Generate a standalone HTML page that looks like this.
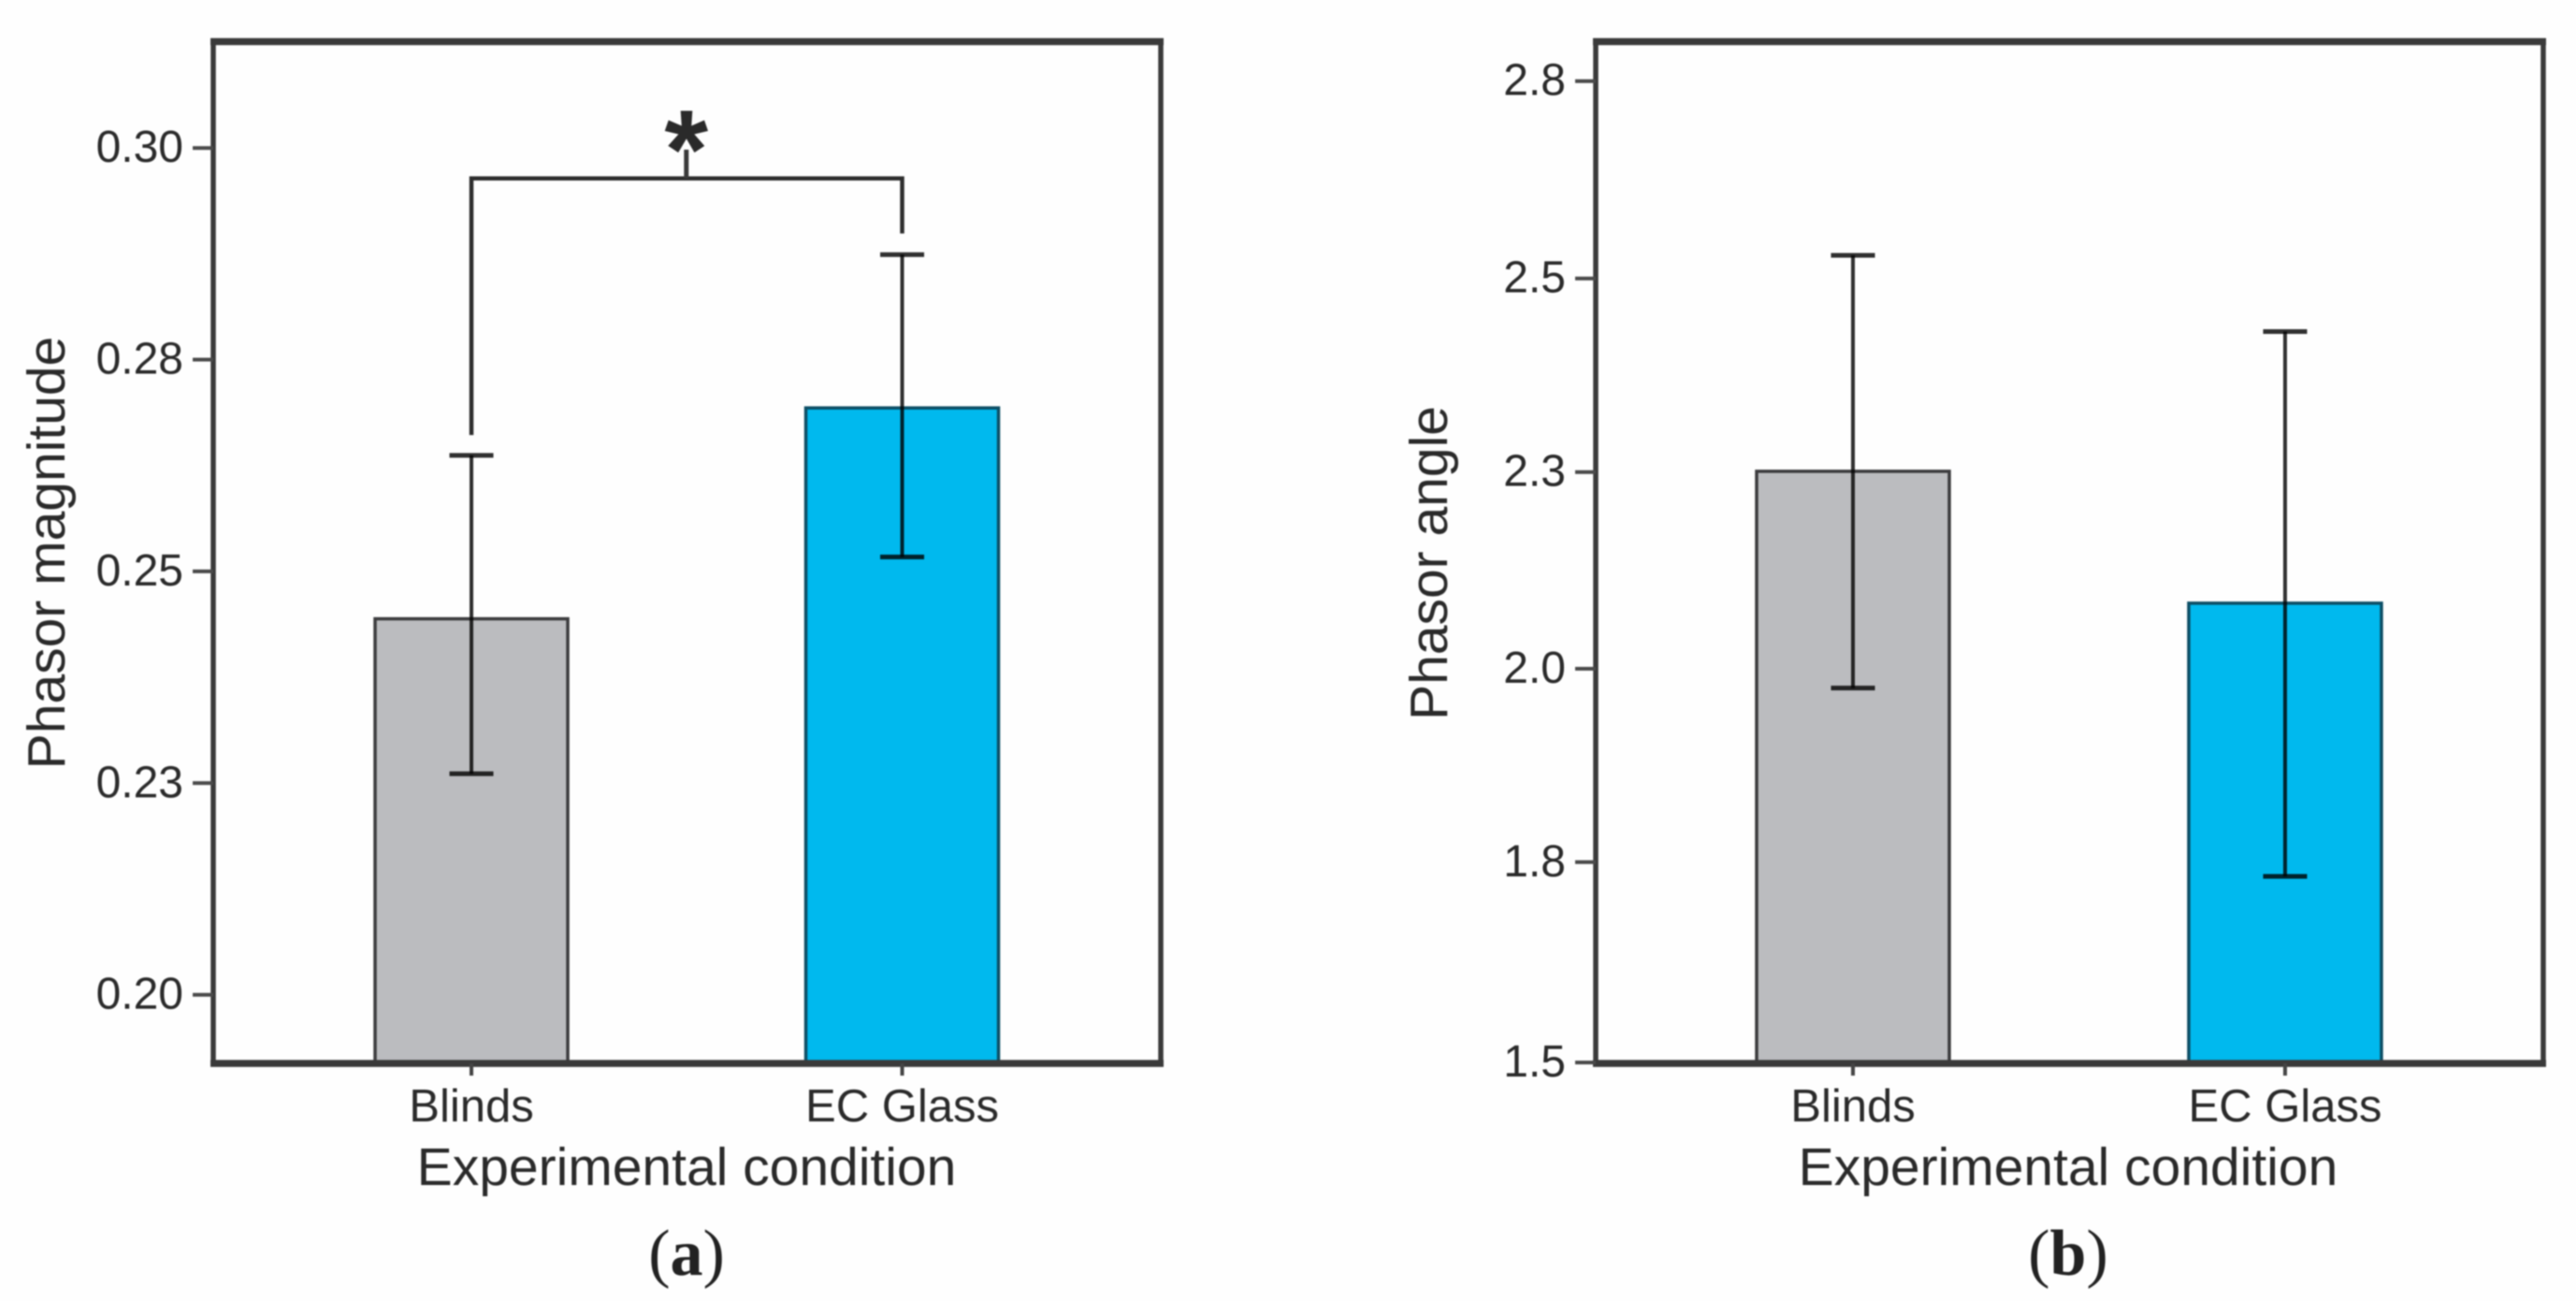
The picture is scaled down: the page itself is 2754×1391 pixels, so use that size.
<!DOCTYPE html>
<html lang="en">
<head>
<meta charset="utf-8">
<title>Phasor magnitude and angle by experimental condition</title>
<style>
  html, body { margin: 0; padding: 0; background: #fff; }
  body { width: 2754px; height: 1391px; overflow: hidden; }
  svg { display: block; filter: blur(0.8px); }
  text { font-family: "Liberation Sans", Arial, sans-serif; fill: #2a2a2a; }
  .caption { font-family: "Liberation Serif", "Times New Roman", serif; fill: #222; }
</style>
</head>
<body>
<svg id="figure" xmlns="http://www.w3.org/2000/svg" width="2754" height="1391" viewBox="0 0 2754 1391">
  <rect x="0" y="0" width="2754" height="1391" fill="#fefefe"></rect>
  <g id="panel-a"></g>
  <g id="panel-b"></g>
</svg>
<script>
// Shared categories
const categories = ['Blinds', 'EC Glass'];

// Panel (a) data
const magnitudeMeans = [0.2444, 0.2693];
const magnitudeErrHigh = [0.2637, 0.2874];
const magnitudeErrLow = [0.2261, 0.2517];
const magnitudeTicks = [0.30, 0.275, 0.25, 0.225, 0.20];
const magnitudeTickLabels = ['0.30', '0.28', '0.25', '0.23', '0.20'];
const bracketTopValue = 0.2964;
const bracketLeftEndValue = 0.2661;
const bracketRightEndValue = 0.2899;
const bracketStemTopValue = 0.2998;

// Panel (b) data
const angleMeans = [2.253, 2.085];
const angleErrHigh = [2.528, 2.431];
const angleErrLow = [1.977, 1.737];
const angleTicks = [2.75, 2.4986, 2.252, 2.0015, 1.7552, 1.5];
const angleTickLabels = ['2.8', '2.5', '2.3', '2.0', '1.8', '1.5'];

const NS = 'http://www.w3.org/2000/svg';
const INK = '#3a3a3a';
const FILLS = ['#bbbcbf', '#00b9ee'];
const EDGES = ['#3c3c3e', '#0d4f66'];

function make(parent, tag, attrs, text) {
  const el = document.createElementNS(NS, tag);
  for (const k in attrs) el.setAttribute(k, attrs[k]);
  if (text !== undefined) el.textContent = text;
  parent.appendChild(el);
  return el;
}

function linearScale(v0, y0, v1, y1) {
  return function (v) { return y0 + (v - v0) * (y1 - y0) / (v1 - v0); };
}

function drawPanel(g, opt) {
  const y = opt.yScale;
  const x = opt.xScale;

  // bars
  opt.means.forEach(function (m, i) {
    const top = y(m);
    const bar = make(g, 'rect', { x: x(i) - opt.barWidth / 2, y: top, width: opt.barWidth, height: opt.bottom - top, fill: FILLS[i], stroke: EDGES[i], 'stroke-width': 3.5 });
    
    
  });

  // error bars
  opt.means.forEach(function (m, i) {
    const cx = x(i);
    const hi = y(opt.errHigh[i]);
    const lo = y(opt.errLow[i]);
    const color = '#303030';
    const blend = 'mix-blend-mode:multiply';
    const stem = make(g, 'line', { x1: cx, x2: cx, y1: hi, y2: lo, stroke: color, 'stroke-width': 4, style: blend });
    
    
    const capHigh = make(g, 'line', { x1: cx - 23.5, x2: cx + 23.5, y1: hi, y2: hi, stroke: color, 'stroke-width': 5, style: blend });
    
    
    const capLow = make(g, 'line', { x1: cx - 23.5, x2: cx + 23.5, y1: lo, y2: lo, stroke: color, 'stroke-width': 5, style: blend });
    
    
  });

  // plot frame
  const frameTop = make(g, 'line', { x1: opt.left - 3, x2: opt.right + 3, y1: 44.5, y2: 44.5, stroke: INK, 'stroke-width': 7.5 });
  
  
  const frameLeft = make(g, 'line', { x1: opt.left, x2: opt.left, y1: 42, y2: opt.bottom + 3, stroke: INK, 'stroke-width': 5.5 });
  
  
  const frameRight = make(g, 'line', { x1: opt.right, x2: opt.right, y1: 42, y2: opt.bottom + 3, stroke: INK, 'stroke-width': 5.5 });
  
  
  const frameBottom = make(g, 'line', { x1: opt.left - 3, x2: opt.right + 3, y1: opt.bottom, y2: opt.bottom, stroke: INK, 'stroke-width': 7.5 });
  
  

  // y ticks
  opt.ticks.forEach(function (t, i) {
    const ty = y(t);
    const tick = make(g, 'line', { x1: opt.left - 22, x2: opt.left, y1: ty, y2: ty, stroke: '#4a4a4a', 'stroke-width': 4 });
    
    
    const label = make(g, 'text', { x: opt.left - 32, y: ty + 15, 'text-anchor': 'end', 'font-size': 48 }, opt.tickLabels[i]);
    
    
  });

  // x ticks
  categories.forEach(function (c, i) {
    const cx = x(i);
    const tick = make(g, 'line', { x1: cx, x2: cx, y1: opt.bottom, y2: opt.bottom + 13, stroke: '#444', 'stroke-width': 4 });
    
    
    const label = make(g, 'text', { x: cx, y: 1199, 'text-anchor': 'middle', 'font-size': 49 }, c);
    
    
  });

  // axis titles
  const xTitle = make(g, 'text', { x: opt.xTitleX, y: 1267, 'text-anchor': 'middle', 'font-size': 57 }, 'Experimental condition');
  
  
  const yTitle = make(g, 'text', { x: 0, y: 0, transform: 'translate(' + opt.yTitleX + ' ' + opt.yTitleY + ') rotate(-90)', 'text-anchor': 'middle', 'font-size': 57 }, opt.yTitle);
  
  

  // panel caption
  const caption = make(g, 'text', { x: opt.xTitleX, y: 1363, 'text-anchor': 'middle', 'font-size': 70, class: 'caption' });
  
  
  make(caption, 'tspan', {}, '(');
  make(caption, 'tspan', { 'font-weight': 'bold' }, opt.captionLetter);
  make(caption, 'tspan', {}, ')');
}

// Panel (a)
const yMagnitude = linearScale(0.30, 158.2, 0.20, 1063.6);
const xMagnitude = function (i) { return 504 + i * 460.5; };
const panelA = document.getElementById('panel-a');
drawPanel(panelA, {
  yScale: yMagnitude, xScale: xMagnitude, barWidth: 206, left: 228, right: 1241, bottom: 1137,
  means: magnitudeMeans, errHigh: magnitudeErrHigh, errLow: magnitudeErrLow,
  ticks: magnitudeTicks, tickLabels: magnitudeTickLabels,
  xTitleX: 734, yTitle: 'Phasor magnitude', yTitleX: 69, yTitleY: 591, captionLetter: 'a'
});

// Significance bracket (a)
const bracketLeftX = xMagnitude(0);
const bracketRightX = xMagnitude(1);
const bracketMidX = (bracketLeftX + bracketRightX) / 2 - 0.5;
const bracket = make(panelA, 'polyline', {
  points: [
    bracketLeftX + ',' + yMagnitude(bracketLeftEndValue),
    bracketLeftX + ',' + yMagnitude(bracketTopValue),
    bracketRightX + ',' + yMagnitude(bracketTopValue),
    bracketRightX + ',' + yMagnitude(bracketRightEndValue)
  ].join(' '),
  fill: 'none', stroke: '#2e2e2e', 'stroke-width': 4.5
});


const bracketStem = make(panelA, 'line', { x1: bracketMidX, x2: bracketMidX, y1: yMagnitude(bracketStemTopValue), y2: yMagnitude(bracketTopValue), stroke: '#3a3a3a', 'stroke-width': 5 });


const star = make(panelA, 'text', { x: bracketMidX, y: 201, 'text-anchor': 'middle', 'font-size': 120, 'font-weight': 'bold' }, '*');



// Panel (b)
const yAngle = linearScale(2.75, 86.7, 1.5, 1136);
const xAngle = function (i) { return 1981 + i * 462; };
const panelB = document.getElementById('panel-b');
drawPanel(panelB, {
  yScale: yAngle, xScale: xAngle, barWidth: 206, left: 1706, right: 2719, bottom: 1137,
  means: angleMeans, errHigh: angleErrHigh, errLow: angleErrLow,
  ticks: angleTicks, tickLabels: angleTickLabels,
  xTitleX: 2211, yTitle: 'Phasor angle', yTitleX: 1547, yTitleY: 602, captionLetter: 'b'
});
</script>
</body>
</html>
